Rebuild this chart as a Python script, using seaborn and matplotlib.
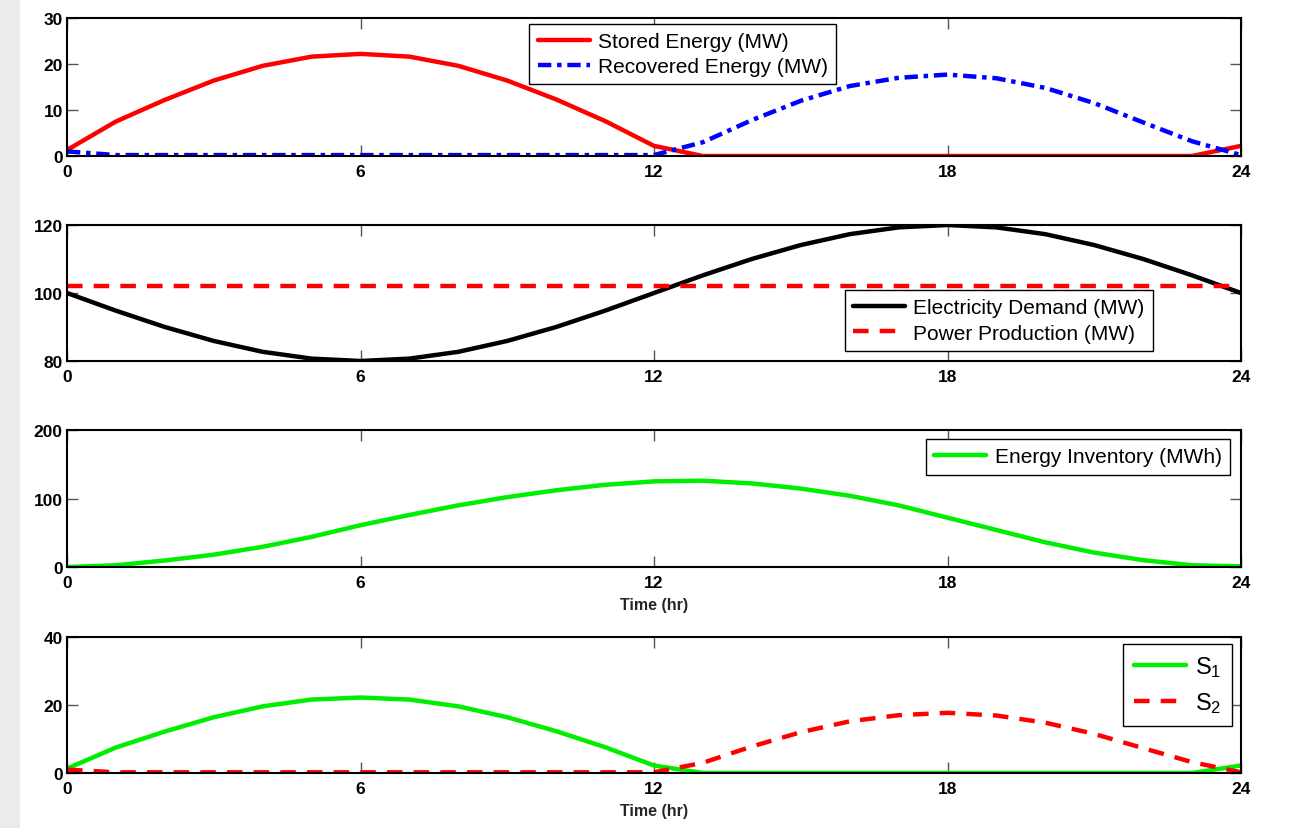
import numpy as np
import pandas as pd
import matplotlib
matplotlib.use("Agg")
import matplotlib.pyplot as plt
import seaborn as sns
from matplotlib.patches import Rectangle

hours = list(range(25))
stored = [1.3, 7.5, 12.2, 16.4, 19.6, 21.6, 22.2, 21.6, 19.6, 16.4, 12.3, 7.6, 2.2,
          0, 0, 0, 0, 0, 0, 0, 0, 0, 0, 0, 2.2]
recovered = [1.0, 0.2, 0.2, 0.2, 0.2, 0.2, 0.2, 0.2, 0.2, 0.2, 0.2, 0.2, 0.2,
             3.0, 7.8, 12.0, 15.2, 17.0, 17.7, 16.9, 14.8, 11.5, 7.3, 3.2, 0.2]
demand = [100, 94.8, 90, 85.9, 82.7, 80.7, 80, 80.7, 82.7, 85.9, 90, 94.8, 100,
          105.2, 110, 114.1, 117.3, 119.3, 120, 119.3, 117.3, 114.1, 110, 105.2, 100]
production = [102.2] * 25
inventory = [0, 2.5, 9.5, 18, 29.5, 44, 61, 76, 90, 102, 112, 120, 125,
             126, 122, 114.5, 104, 90, 72, 54, 36, 21, 10, 2.5, 1]
xticks = [0, 6, 12, 18, 24]

sns.set_style("white")
plt.rcParams['font.family'] = ['Liberation Sans', 'DejaVu Sans']
plt.rcParams['mathtext.default'] = 'regular'

df = pd.DataFrame({"t": hours, "stored": stored, "recovered": recovered,
                   "demand": demand, "production": production, "inventory": inventory})

fig = plt.figure(figsize=(12.92, 8.29), dpi=100)
fig.patch.set_facecolor("white")
fig.add_artist(Rectangle((0, 0), 20 / 1292, 1, transform=fig.transFigure,
                         facecolor="#ebebeb", edgecolor="none", zorder=0))

L, W = 67 / 1292, (1241 - 67) / 1292
def mk(top, bot):
    return fig.add_axes([L, 1 - bot / 829, W, (bot - top) / 829])

ax1 = mk(19, 157)
ax2 = mk(226, 362)
ax3 = mk(431, 568)
ax4 = mk(638, 774)

LW = 3.2
dashdot = (3, 1.3, 1, 1.3)
dashed = (3.5, 2.5)

sns.lineplot(data=df, x="t", y="stored", ax=ax1, color="#ff0000", lw=LW, label="Stored Energy (MW)")
sns.lineplot(data=df, x="t", y="recovered", ax=ax1, color="#0000ff", lw=LW, label="Recovered Energy (MW)")
ax1.lines[1].set_dashes(dashdot)

sns.lineplot(data=df, x="t", y="demand", ax=ax2, color="black", lw=LW, label="Electricity Demand (MW)")
sns.lineplot(data=df, x="t", y="production", ax=ax2, color="#ff0000", lw=LW, label="Power Production (MW)")
ax2.lines[1].set_dashes(dashed)

sns.lineplot(data=df, x="t", y="inventory", ax=ax3, color="#00ee00", lw=LW, label="Energy Inventory (MWh)")

sns.lineplot(data=df, x="t", y="stored", ax=ax4, color="#00ee00", lw=LW, label="S$_1$")
sns.lineplot(data=df, x="t", y="recovered", ax=ax4, color="#ff0000", lw=LW, label="S$_2$")
ax4.lines[1].set_dashes(dashed)

limits = [(0, 30, [0, 10, 20, 30]), (80, 120, [80, 100, 120]),
          (0, 200, [0, 100, 200]), (0, 40, [0, 20, 40])]
for ax, (lo, hi, yt) in zip([ax1, ax2, ax3, ax4], limits):
    ax.set_xlim(0, 24)
    ax.set_ylim(lo, hi)
    ax.set_xticks(xticks)
    ax.set_yticks(yt)
    ax.set_ylabel("")
    ax.set_xlabel("")
    ax.tick_params(direction="in", length=8, width=1, color="#555555",
                   top=True, right=True, bottom=True, left=True,
                   labelsize=12.5, labelcolor="black")
    ax.tick_params(axis="x", pad=6)
    ax.tick_params(axis="y", pad=3)
    for lab in ax.get_xticklabels() + ax.get_yticklabels():
        lab.set_fontweight("bold")
    for s in ax.spines.values():
        s.set_visible(True)
        s.set_color("black")
        s.set_linewidth(1.5)

for ax in (ax3, ax4):
    ax.set_xlabel("Time (hr)", fontsize=11.5, fontweight="bold", labelpad=5)

legkw = dict(fontsize=15, frameon=True, fancybox=False, edgecolor="black",
             framealpha=1, handlelength=2.5, borderpad=0.4, labelspacing=0.3,
             handletextpad=0.4, borderaxespad=0)
lg1 = ax1.legend(loc="upper center", bbox_to_anchor=(0.5245, 0.96), **legkw)
lg2 = ax2.legend(loc="lower right", bbox_to_anchor=(0.925, 0.0735), **legkw)
lg3 = ax3.legend(loc="upper right", bbox_to_anchor=(0.9906, 0.934), **legkw)
lg4 = ax4.legend(loc="upper right", bbox_to_anchor=(0.9923, 0.949),
                 **dict(legkw, fontsize=17, labelspacing=0.45, borderpad=0.45,
                        handlelength=2.2))
for lg in (lg1, lg2, lg3, lg4):
    lg.get_frame().set_linewidth(1.0)
    for t in lg.get_texts():
        t.set_color("black")

fig.savefig("out.png", dpi=100)
